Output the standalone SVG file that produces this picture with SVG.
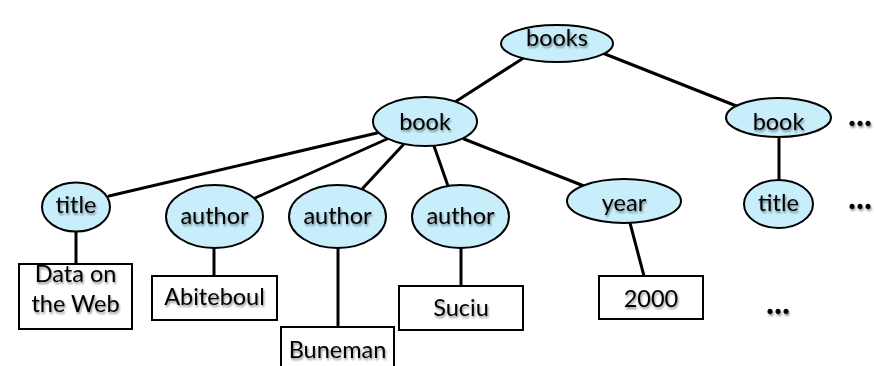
<svg xmlns="http://www.w3.org/2000/svg" width="874" height="366" viewBox="0 0 874 366">
  <defs>
    <filter id="soft" x="-20%" y="-30%" width="140%" height="170%">
      <feGaussianBlur in="SourceAlpha" stdDeviation="1.2" result="b"/>
      <feOffset in="b" dx="0.5" dy="1.5" result="o"/>
      <feComponentTransfer in="o" result="s"><feFuncA type="linear" slope="0.45"/></feComponentTransfer>
      <feMerge><feMergeNode in="s"/><feMergeNode in="SourceGraphic"/></feMerge>
    </filter>
  </defs>
  <style>
    .node ellipse { fill: #c9eefb; stroke: #000; stroke-width: 2; }
    .leaf rect { fill: #fff; stroke: #000; stroke-width: 2; }
    text { font-family: Lato, "Open Sans", "Liberation Sans", sans-serif; font-size: 23.5px; fill: #000; text-anchor: middle; filter: url(#soft); }
    .dots { font-size: 34px; font-weight: bold; }
    #edges line { stroke: #000; stroke-width: 3; stroke-linecap: round; }
  </style>
  <rect width="874" height="366" fill="#fff"/>

  <g id="edges">
    <line x1="525" y1="57" x2="455" y2="102"/>
    <line x1="600" y1="52" x2="739" y2="107"/>
    <line x1="377" y1="133" x2="109" y2="196"/>
    <line x1="387" y1="139" x2="255" y2="198"/>
    <line x1="403" y1="145" x2="363" y2="188"/>
    <line x1="434" y1="146" x2="448" y2="186"/>
    <line x1="464" y1="139" x2="584" y2="186"/>
    <line x1="779" y1="137" x2="779" y2="181"/>
    <line x1="76" y1="231" x2="76" y2="264"/>
    <line x1="214" y1="248" x2="214" y2="276"/>
    <line x1="338" y1="248" x2="338" y2="327"/>
    <line x1="461" y1="248" x2="461" y2="286"/>
    <line x1="630" y1="223" x2="644" y2="276"/>
  </g>

  <g id="books" class="node"><ellipse cx="557" cy="43.5" rx="56" ry="18.5"/><text x="557" y="46">books</text></g>
  <g id="book1" class="node"><ellipse cx="425" cy="121.5" rx="52" ry="24.5"/><text x="425" y="130">book</text></g>
  <g id="book2" class="node"><ellipse cx="778.5" cy="117.5" rx="52.5" ry="19.5"/><text x="778.5" y="130">book</text></g>
  <g id="title1" class="node"><ellipse cx="76" cy="207" rx="34" ry="24.5"/><text x="76" y="213">title</text></g>
  <g id="author1" class="node"><ellipse cx="214.5" cy="216.5" rx="48.5" ry="31.5"/><text x="214.5" y="224">author</text></g>
  <g id="author2" class="node"><ellipse cx="337.5" cy="216.5" rx="48.5" ry="31.5"/><text x="337.5" y="224">author</text></g>
  <g id="author3" class="node"><ellipse cx="460.5" cy="216.5" rx="48.5" ry="31.5"/><text x="460.5" y="224">author</text></g>
  <g id="year" class="node"><ellipse cx="624" cy="201" rx="57" ry="22"/><text x="624" y="211">year</text></g>
  <g id="title2" class="node"><ellipse cx="778.5" cy="204" rx="34.5" ry="24"/><text x="778.5" y="211">title</text></g>

  <g id="v-title" class="leaf"><rect x="19" y="264" width="113" height="65"/><text x="75.5" y="282">Data on</text><text x="75.5" y="312">the Web</text></g>
  <g id="v-abiteboul" class="leaf"><rect x="152" y="276" width="125" height="44"/><text x="214.5" y="305">Abiteboul</text></g>
  <g id="v-buneman" class="leaf"><rect x="281" y="327" width="113" height="45"/><text x="337.5" y="358">Buneman</text></g>
  <g id="v-suciu" class="leaf"><rect x="399" y="286" width="124" height="44"/><text x="461" y="316">Suciu</text></g>
  <g id="v-year" class="leaf"><rect x="599" y="276" width="104" height="43"/><text x="651" y="307">2000</text></g>

  <g id="more">
    <text class="dots" x="860" y="126">...</text>
    <text class="dots" x="860" y="209">...</text>
    <text class="dots" x="778" y="314">...</text>
  </g>
</svg>
